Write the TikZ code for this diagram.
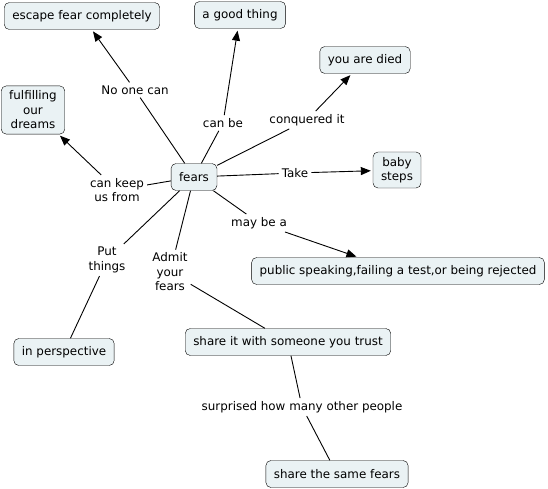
\documentclass[tikz,border=0pt]{standalone}
\usepackage{fontspec}
\setmainfont{DejaVu Sans}
\usetikzlibrary{arrows.meta, positioning}
\definecolor{conceptfill}{RGB}{234,242,244}

\begin{document}
\begin{tikzpicture}[
        x=1pt, y=-1pt,
        font=\fontsize{11.9}{14.5}\selectfont,
        concept/.style={rectangle, draw, fill=conceptfill, align=center, rounded corners=5pt, inner xsep=8pt, inner ysep=5pt, minimum height=27pt},
        linkword/.style={align=center, inner sep=3pt},
        line/.style={line width=0.9pt},
        arrow/.style={line width=0.9pt,->,>={Triangle[length=10pt,width=8pt]}, shorten >=2pt}
    ]
    \useasboundingbox (0,0) rectangle (548,488);

    % Concepts
    \node [concept] (fears) at (194,177) {fears};
    \node [concept] (escape) at (82,16) {escape fear completely};
    \node [concept] (good) at (240,15) {a good thing};
    \node [concept] (died) at (365,60) {you are died};
    \node [concept] (dreams) at (33,110) {fulfilling\\our\\dreams};
    \node [concept] (baby) at (397,170) {baby\\steps};
    \node [concept] (public) at (398,271) {public speaking,failing a test,or being rejected};
    \node [concept] (persp) at (64,352) {in perspective};
    \node [concept] (share) at (288,342) {share it with someone you trust};
    \node [concept] (same) at (337,474) {share the same fears};

    % Linking words
    \node [linkword] (noone) at (135,90) {No one can};
    \node [linkword] (canbe) at (223,123) {can be};
    \node [linkword] (conquered) at (307,120) {conquered it};
    \node [linkword] (take) at (295,173) {Take};
    \node [linkword] (keep) at (117,190) {can keep\\us from};
    \node [linkword] (maybe) at (259,223) {may be a};
    \node [linkword] (put) at (107,260) {Put\\things};
    \node [linkword] (admit) at (170,272) {Admit\\your\\fears};
    \node [linkword] (surprised) at (302,407) {surprised how many other people};

    % Connecting Lines
    \draw [line] (fears) -- (noone);
    \draw [arrow] (noone) -- (escape);
    \draw [line] (fears) -- (canbe);
    \draw [arrow] (canbe) -- (good);
    \draw [line] (fears) -- (conquered);
    \draw [arrow] (conquered) -- (died);
    \draw [line] (fears) -- (take);
    \draw [arrow] (take) -- (baby);
    \draw [line] (fears) -- (keep);
    \draw [arrow] (keep) -- (dreams);
    \draw [line] (fears) -- (maybe);
    \draw [arrow] (maybe) -- (public);
    \draw [line] (fears) -- (put);
    \draw [line] (put) -- (persp);
    \draw [line] (fears) -- (admit);
    \draw [line] (admit) -- (share);
    \draw [line] (share) -- (surprised);
    \draw [line] (surprised) -- (same);

\end{tikzpicture}
\end{document}
